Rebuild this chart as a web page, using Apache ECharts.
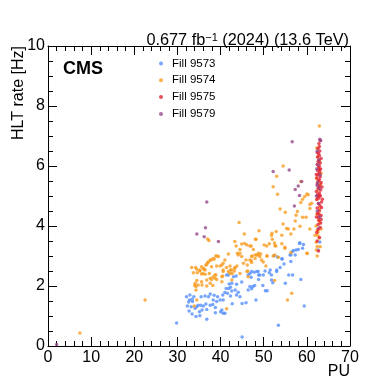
<!DOCTYPE html>
<html>
<head>
<meta charset="utf-8">
<script src="https://cdn.jsdelivr.net/npm/echarts@6/dist/echarts.min.js"></script>
<style>
  html, body { margin: 0; padding: 0; background: #fff; }
  #chart { width: 389px; height: 389px; }
</style>
</head>
<body>
<div id="chart"></div>
<script>
// [PU, HLT rate in Hz]
const fill9573 = [
  [29.8, 0.77], [45.0, 0.3], [53.4, 0.69], [59.4, 1.33],
  [32.3, 1.33], [32.6, 1.47], [32.1, 1.64], [32.9, 1.7], [32.8, 1.53], [33.4, 1.56], [33.8, 1.64], [33.5, 1.48],
  [33.2, 1.31], [34.1, 1.26], [34.3, 0.98], [35.2, 1.01], [35.1, 1.14], [35.7, 1.2], [36.0, 1.33], [35.4, 1.36],
  [34.8, 1.36], [36.6, 1.4], [36.8, 1.22], [36.8, 0.89], [37.6, 1.36], [38.2, 1.38], [38.8, 1.28], [38.8, 1.11],
  [40.0, 1.14], [40.6, 1.09], [38.3, 1.53], [39.3, 1.64], [39.1, 1.48], [39.9, 1.53], [40.6, 1.53], [41.0, 1.78],
  [41.6, 1.76], [42.3, 1.67], [42.6, 1.83], [41.9, 1.92], [41.3, 1.92], [43.4, 1.87], [43.7, 1.7], [44.1, 1.79],
  [44.5, 1.64], [45.0, 1.42], [42.7, 1.41], [45.9, 1.44], [44.9, 2.13], [46.4, 1.87], [46.8, 1.98], [47.2, 1.91],
  [43.6, 2.33], [42.3, 1.96], [42.0, 2.07], [41.4, 2.37], [43.0, 2.31], [40.5, 1.7], [37.2, 1.64], [36.4, 1.67],
  [35.5, 1.64], [37.6, 1.73], [38.5, 1.69], [34.5, 1.31], [32.7, 1.17], [33.4, 1.07], [40.3, 1.2], [41.0, 1.09],
  [43.7, 2.06], [42.6, 2.09], [46.4, 2.37], [47.2, 2.48], [48.8, 2.37], [53.0, 2.48], [41.8, 2.37], [48.4, 2.48],
  [58.3, 3.42], [59.2, 3.38], [59.0, 3.26], [58.0, 3.22], [56.9, 3.18], [57.3, 3.03], [56.1, 3.03], [54.3, 2.9],
  [56.3, 2.82], [54.7, 2.73], [53.8, 2.62], [53.0, 2.53], [51.5, 2.53], [51.3, 2.44], [51.8, 2.37], [49.1, 2.37],
  [49.9, 2.37], [50.3, 2.5], [55.8, 2.37], [56.7, 2.37], [48.7, 2.48], [47.8, 2.46], [46.8, 2.42], [47.1, 2.29],
  [48.8, 2.22], [51.8, 2.2], [52.1, 2.11], [55.0, 2.09], [47.5, 1.98], [47.9, 2.02], [49.8, 2.02], [50.4, 1.84],
  [50.8, 1.84], [58.6, 2.22], [48.2, 1.53], [58.4, 3.44], [57.5, 3.2], [56.6, 3.14], [56.3, 3.04], [52.4, 3.01],
  [53.2, 2.97], [54.2, 2.91], [62.7, 3.93], [63.0, 3.47], [62.6, 3.2]
];
const fill9574 = [
  [7.4, 0.43], [22.5, 1.53], [33.9, 1.33], [41.4, 1.24], [55.5, 1.53], [56.5, 1.76], [52.5, 2.18],
  [33.3, 2.62], [33.7, 2.44], [34.6, 2.44], [34.2, 2.62], [35.6, 2.64], [36.2, 2.56], [36.6, 2.7], [37.0, 2.78],
  [37.6, 2.87], [38.3, 2.92], [38.9, 3.0], [39.5, 2.98], [35.9, 2.42], [36.4, 2.39], [37.4, 2.42], [34.1, 2.09],
  [34.5, 2.18], [34.8, 2.03], [35.6, 2.14], [36.8, 2.2], [37.6, 2.26], [38.3, 2.31], [39.1, 2.22], [38.7, 2.37],
  [40.3, 2.31], [40.6, 2.76], [40.6, 2.53], [41.4, 2.62], [42.2, 2.42], [42.3, 2.53], [42.6, 2.2], [41.8, 3.07],
  [39.9, 2.67], [43.3, 2.59], [43.8, 2.67], [44.1, 3.03], [44.5, 3.09], [44.9, 2.98], [45.3, 2.76], [46.2, 2.7],
  [46.8, 2.87], [47.2, 2.78], [48.0, 3.03], [48.8, 3.09], [49.1, 2.98], [50.7, 3.0], [44.5, 2.42], [46.1, 2.48],
  [34.5, 1.53], [34.3, 1.87], [35.2, 2.5], [35.6, 2.4], [36.4, 2.53], [37.9, 2.22], [38.7, 2.26], [37.6, 2.09],
  [35.7, 2.03], [36.8, 2.0], [34.0, 2.02], [34.3, 1.98], [38.2, 2.02], [40.3, 2.14], [40.5, 2.33], [41.8, 2.48],
  [42.6, 2.53], [43.2, 2.5], [46.3, 2.5], [46.4, 2.31], [44.3, 4.12], [45.5, 3.73], [48.9, 3.84], [48.1, 3.56],
  [43.3, 3.48], [43.6, 3.33], [44.9, 3.4], [45.6, 3.42], [46.1, 3.37], [46.8, 3.33], [47.6, 3.22], [44.5, 3.22],
  [43.9, 3.09], [45.9, 2.87], [47.2, 2.98], [48.4, 3.03], [41.0, 2.87], [40.3, 2.7], [39.2, 3.0], [38.5, 2.89],
  [37.8, 2.87], [37.2, 2.8], [36.8, 2.72], [37.9, 2.64], [39.1, 2.67], [36.0, 2.59], [35.2, 2.53], [34.5, 2.56],
  [42.2, 2.67], [43.3, 2.62], [40.6, 2.48], [42.7, 2.42], [38.9, 2.37], [37.0, 3.57], [37.3, 3.52],
  [52.9, 3.82], [51.8, 3.68], [55.7, 3.9], [48.2, 3.56], [50.1, 3.37], [52.0, 3.56], [54.2, 3.41], [52.5, 3.43],
  [47.1, 3.33], [50.7, 3.33], [51.3, 3.41], [52.8, 3.33], [54.9, 3.26], [56.3, 3.11], [60.1, 3.08], [47.3, 3.0],
  [48.0, 2.92], [48.7, 3.03], [49.3, 3.07], [47.1, 2.84], [49.5, 2.87], [49.9, 2.8], [50.5, 2.67], [50.8, 3.0],
  [52.2, 3.0], [52.6, 3.03], [53.4, 2.96], [54.5, 6.0], [53.0, 5.66], [52.2, 5.31], [53.2, 5.06], [58.6, 5.48],
  [60.0, 5.07], [60.3, 5.04], [59.0, 4.89], [59.5, 4.98], [58.6, 4.78], [60.7, 4.72], [53.8, 4.57], [55.0, 4.46],
  [57.8, 4.48], [57.5, 4.36], [59.0, 4.29], [59.8, 4.29], [60.7, 4.58], [57.3, 4.17], [54.5, 4.07], [55.3, 3.92],
  [57.0, 3.9], [58.4, 3.99], [60.7, 3.9], [51.9, 3.76], [54.2, 3.69], [56.3, 3.73], [54.9, 3.29], [60.0, 3.09],
  [52.6, 3.34], [61.1, 4.76], [62.9, 7.33], [62.2, 3.46], [62.4, 3.32], [63.1, 3.31], [61.9, 3.69], [62.5, 3.69],
  [62.3, 6.6], [62.5, 6.3], [62.8, 5.9], [62.2, 5.6], [63.2, 5.4], [62.6, 5.2], [62.4, 4.9], [63.0, 4.6],
  [62.3, 4.4], [62.7, 4.2], [62.1, 4.0], [63.3, 3.9], [62.6, 3.8], [62.9, 3.6], [62.2, 3.2], [62.4, 3.0],
  [63.0, 4.1], [62.8, 4.45], [62.5, 5.5], [63.3, 5.75], [62.9, 6.15], [62.4, 3.85]
];
const fill9575 = [
  [62.7, 3.17], [62.4, 3.5], [62.9, 3.62], [62.3, 3.78], [63.1, 3.95], [62.6, 4.05], [62.8, 4.18], [62.2, 4.3],
  [63.3, 4.35], [62.5, 4.42], [62.9, 4.52], [62.4, 4.6], [63.0, 4.68], [62.7, 4.75], [63.4, 4.8], [62.3, 4.88],
  [62.8, 4.93], [63.1, 5.0], [62.5, 5.05], [62.9, 5.1], [62.2, 5.15], [63.2, 5.2], [62.6, 5.25], [62.8, 5.3],
  [63.0, 5.36], [62.4, 5.4], [63.3, 5.45], [62.7, 5.5], [62.9, 5.55], [62.3, 5.6], [63.1, 5.64], [62.6, 5.7],
  [62.8, 5.75], [63.0, 5.8], [62.5, 5.85], [63.2, 5.9], [62.7, 5.95], [62.9, 6.0], [62.4, 6.05], [63.1, 6.1],
  [62.6, 6.15], [62.8, 6.2], [63.3, 6.25], [62.5, 6.3], [62.9, 6.35], [62.7, 6.42], [63.0, 6.5], [62.6, 6.58],
  [62.9, 6.65], [62.8, 6.75], [63.1, 6.85], [62.5, 4.98], [63.4, 4.62], [62.2, 5.72], [63.5, 5.3], [62.8, 4.38],
  [63.2, 4.1], [62.6, 3.88], [62.9, 5.88], [62.4, 6.45], [63.0, 5.02], [62.7, 4.28], [63.3, 4.22], [63.6, 4.89]
];
const fill9579 = [
  [2.0, 0.05], [36.8, 4.8], [36.5, 3.94], [34.5, 3.73], [36.2, 3.64], [39.5, 3.48], [56.6, 6.81], [52.2, 5.82],
  [55.9, 5.87], [58.8, 5.48], [58.0, 5.33], [57.3, 5.22], [58.3, 5.02], [57.1, 4.67],
  [63.0, 6.89], [63.2, 6.85], [62.4, 6.5], [62.8, 6.2], [62.3, 5.9], [63.1, 5.7], [62.5, 5.45], [62.9, 5.25],
  [62.2, 5.0], [62.7, 4.75], [62.4, 4.5], [63.0, 4.3], [62.6, 6.05], [62.4, 5.35]
];
const fillNames = ['Fill 9573', 'Fill 9574', 'Fill 9575', 'Fill 9579'];
const colors = ['#5790fc', '#f89c20', '#e42536', '#964a8b'];

const font = '"Liberation Sans", Arial, Helvetica, sans-serif';
const chart = echarts.init(document.getElementById('chart'), null, { renderer: 'canvas' });

const tickStyle = { color: '#000', width: 1 };
function xAx(pos, labels) {
  return {
    type: 'value', position: pos, min: 0, max: 70, interval: 10,
    axisLine: { show: true, onZero: false, lineStyle: { color: '#000', width: 1 } },
    axisTick: { show: true, inside: true, length: 9, lineStyle: tickStyle },
    minorTick: { show: true, splitNumber: 5, length: 5, lineStyle: tickStyle },
    axisLabel: { show: labels, color: '#000', fontSize: 16, margin: 4, fontFamily: font },
    splitLine: { show: false }
  };
}
function yAx(pos, labels) {
  return {
    type: 'value', position: pos, min: 0, max: 10, interval: 2,
    axisLine: { show: true, onZero: false, lineStyle: { color: '#000', width: 1 } },
    axisTick: { show: true, inside: true, length: 9, lineStyle: tickStyle },
    minorTick: { show: true, splitNumber: 4, length: 5, lineStyle: tickStyle },
    axisLabel: { show: labels, color: '#000', fontSize: 16, margin: 3, fontFamily: font },
    splitLine: { show: false }
  };
}

const seriesData = [fill9573, fill9574, fill9575, fill9579];

chart.setOption({
  animation: false,
  textStyle: { fontFamily: font },
  grid: { left: 48, right: 39, top: 46, bottom: 43 },
  xAxis: [xAx('bottom', true), xAx('top', false)],
  yAxis: [yAx('left', true), yAx('right', false)],
  title: {
    text: '{a|0.677 fb}{s|−1}{a| (2024) (13.6 TeV)}',
    right: 35, top: 26,
    textStyle: {
      fontWeight: 'normal',
      rich: {
        a: { fontSize: 16.3, fontWeight: 'normal', color: '#000', fontFamily: font, lineHeight: 18, verticalAlign: 'bottom' },
        s: { fontSize: 11, fontWeight: 'normal', color: '#000', fontFamily: font, lineHeight: 18, verticalAlign: 'bottom', padding: [0, 0, 6, 0] }
      }
    }
  },
  legend: {
    orient: 'vertical', left: 159, top: 57.5, padding: 0,
    itemWidth: 4, itemHeight: 4, itemGap: 4.8,
    icon: 'circle',
    data: fillNames,
    textStyle: { fontSize: 11.5, color: '#000', lineHeight: 12, padding: [0, 0, 0, 4], fontFamily: font }
  },
  graphic: [
    { type: 'text', left: 63, top: 60, style: { text: 'CMS', font: 'bold 18px ' + font, fill: '#000' } },
    { type: 'text', right: 39, top: 364, style: { text: 'PU', font: '16px ' + font, fill: '#000' } },
    { type: 'text', left: 11, top: 46, rotation: Math.PI / 2,
      style: { text: 'HLT rate [Hz]', font: '16px ' + font, fill: '#000', align: 'right', verticalAlign: 'top' } }
  ],
  series: seriesData.map((d, i) => ({
    name: fillNames[i],
    type: 'scatter',
    data: d,
    symbol: 'circle',
    symbolSize: 3.5,
    itemStyle: { color: colors[i] },
    emphasis: { disabled: true }
  }))
});
</script>
</body>
</html>
